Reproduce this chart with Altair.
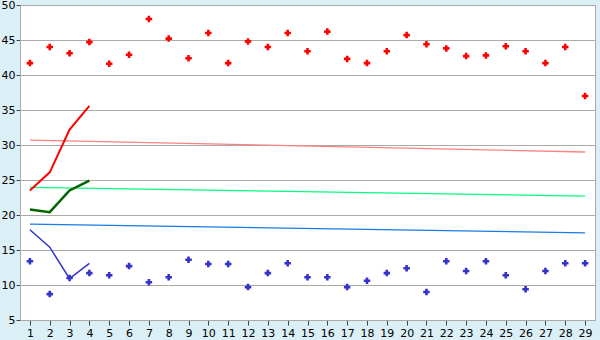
import altair as alt
import pandas as pd

cats = list(range(1, 30))
red_pts = [41.7, 44.0, 43.1, 44.7, 41.6, 42.9, 48.0, 45.2, 42.4, 46.0,
           41.7, 44.8, 44.0, 46.0, 43.4, 46.2, 42.3, 41.7, 43.4, 45.7,
           44.4, 43.8, 42.7, 42.8, 44.1, 43.4, 41.7, 44.0, 37.0]
blue_pts = [13.4, 8.7, 11.0, 11.7, 11.4, 12.7, 10.4, 11.1, 13.6, 13.0,
            13.0, 9.7, 11.7, 13.1, 11.1, 11.1, 9.7, 10.6, 11.7, 12.4,
            9.0, 13.4, 12.0, 13.4, 11.4, 9.4, 12.0, 13.1, 13.1]
line_x = [1, 2, 3, 4]
red_line = [23.5, 26.1, 32.2, 35.6]
green_line = [20.8, 20.4, 23.5, 24.9]
blue_line = [17.9, 15.4, 10.9, 13.1]
trend_x = [1, 29]
pink_trend = [30.7, 29.0]
lgreen_trend = [23.95, 22.7]
blue_trend = [18.7, 17.45]

xs = alt.Scale(domain=[0.5, 29.5], nice=False, zero=False)
ys = alt.Scale(domain=[5, 50], nice=False, zero=False)

xaxis = alt.Axis(values=cats, title=None, grid=False, tickSize=5, labelPadding=2,
                 domainColor="#aaaaaa", tickColor="#444444", labelColor="#000000",
                 labelFont="DejaVu Sans", labelFontSize=11)
yaxis = alt.Axis(values=list(range(5, 51, 5)), title=None, grid=True, gridColor="#aaaaaa",
                 tickSize=4, labelPadding=1, domainColor="#aaaaaa", tickColor="#444444",
                 labelColor="#000000", labelFont="DejaVu Sans", labelFontSize=11)


def pts(vals, color):
    df = pd.DataFrame({"x": cats, "y": vals})
    return alt.Chart(df).mark_point(shape="cross", filled=True, size=42, color=color, opacity=1).encode(
        x=alt.X("x:Q", scale=xs, axis=xaxis), y=alt.Y("y:Q", scale=ys, axis=yaxis))


def ln(xv, vals, color, w):
    df = pd.DataFrame({"x": xv, "y": vals})
    return alt.Chart(df).mark_line(color=color, strokeWidth=w).encode(
        x=alt.X("x:Q", scale=xs, axis=xaxis), y=alt.Y("y:Q", scale=ys, axis=yaxis))


chart = alt.layer(
    ln(trend_x, pink_trend, "#ff8080", 1.3),
    ln(trend_x, lgreen_trend, "#00ff80", 1.3),
    ln(trend_x, blue_trend, "#1a7ae6", 1.3),
    ln(line_x, red_line, "#ff0000", 2),
    ln(line_x, green_line, "#006600", 2.5),
    ln(line_x, blue_line, "#3333cc", 1.5),
    pts(red_pts, "#ff0000"),
    pts(blue_pts, "#3333cc"),
).properties(
    width=575, height=315,
    autosize=alt.AutoSizeParams(type="none"),
    padding={"left": 20, "top": 5, "right": 5, "bottom": 20},
    background="#dbeff6",
).configure_view(fill="#ffffff", stroke="#aaaaaa", strokeWidth=1)

chart.save("out.html", embed_options={"renderer": "svg", "actions": False})
